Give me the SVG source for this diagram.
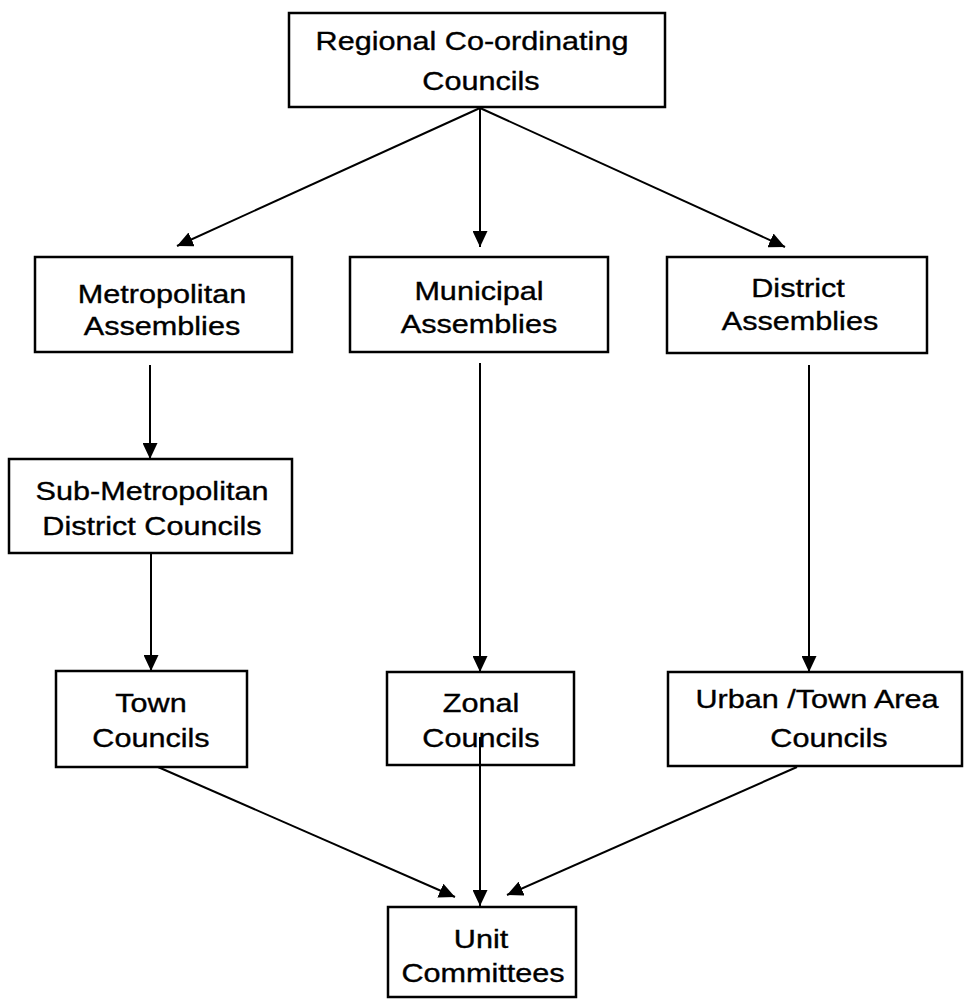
<svg xmlns="http://www.w3.org/2000/svg" width="965" height="999" viewBox="0 0 965 999">
<style>
  .box { fill: #ffffff; stroke: #000000; stroke-width: 2.5; }
  .lbl { font-family: "Liberation Sans", Arial, sans-serif; font-size: 25.5px; fill: #000000; stroke: #000000; stroke-width: 0.35; text-anchor: middle; }
  .conn { stroke: #000000; stroke-width: 2; fill: none; marker-end: url(#arrow); }
</style>
<defs>
  <marker id="arrow" viewBox="0 0 16 15" refX="16" refY="7.5" markerWidth="16" markerHeight="15" markerUnits="userSpaceOnUse" orient="auto">
    <path d="M0,0 L16,7.5 L0,15 Z" fill="#000000"/>
  </marker>
</defs>
<rect width="965" height="999" fill="#ffffff"/>

<g id="connectors">
  <line class="conn" x1="480" y1="108" x2="177" y2="246"/>
  <line class="conn" x1="480" y1="108" x2="480" y2="247"/>
  <line class="conn" x1="480" y1="108" x2="785" y2="247"/>
  <line class="conn" x1="150" y1="365" x2="150" y2="459"/>
  <line class="conn" x1="480" y1="363" x2="480" y2="672"/>
  <line class="conn" x1="809" y1="365" x2="809" y2="672"/>
  <line class="conn" x1="151" y1="553" x2="151" y2="671"/>
  <line class="conn" x1="158" y1="767" x2="455" y2="897"/>
  <line class="conn" x1="797" y1="767" x2="507" y2="895"/>
</g>

<g id="regional">
  <rect class="box" x="289" y="13" width="376" height="94"/>
  <text class="lbl" transform="translate(472,50) scale(1.2,1)">Regional Co-ordinating</text>
  <text class="lbl" transform="translate(481,90) scale(1.2,1)">Councils</text>
</g>

<g id="metropolitan">
  <rect class="box" x="35" y="257" width="257" height="95"/>
  <text class="lbl" transform="translate(162,303) scale(1.2,1)">Metropolitan</text>
  <text class="lbl" transform="translate(162,335) scale(1.2,1)">Assemblies</text>
</g>

<g id="municipal">
  <rect class="box" x="350" y="257" width="258" height="95"/>
  <text class="lbl" transform="translate(479,300) scale(1.2,1)">Municipal</text>
  <text class="lbl" transform="translate(479,333) scale(1.2,1)">Assemblies</text>
</g>

<g id="district">
  <rect class="box" x="667" y="257" width="260" height="96"/>
  <text class="lbl" transform="translate(798,297) scale(1.2,1)">District</text>
  <text class="lbl" transform="translate(800,330) scale(1.2,1)">Assemblies</text>
</g>

<g id="submetro">
  <rect class="box" x="9" y="459" width="283" height="94"/>
  <text class="lbl" transform="translate(152,500) scale(1.2,1)">Sub-Metropolitan</text>
  <text class="lbl" transform="translate(152,535) scale(1.2,1)">District Councils</text>
</g>

<g id="town">
  <rect class="box" x="56" y="671" width="191" height="96"/>
  <text class="lbl" transform="translate(151,712) scale(1.2,1)">Town</text>
  <text class="lbl" transform="translate(151,747) scale(1.2,1)">Councils</text>
</g>

<g id="zonal">
  <rect class="box" x="387" y="672" width="187" height="93"/>
  <text class="lbl" transform="translate(481,712) scale(1.2,1)">Zonal</text>
  <text class="lbl" transform="translate(481,747) scale(1.2,1)">Councils</text>
</g>

<g id="urban">
  <rect class="box" x="668" y="672" width="294" height="94"/>
  <text class="lbl" transform="translate(817,708) scale(1.2,1)">Urban /Town Area</text>
  <text class="lbl" transform="translate(829,747) scale(1.2,1)">Councils</text>
</g>

<g id="zonal-link">
  <line class="conn" x1="480" y1="737" x2="480" y2="906"/>
</g>

<g id="unit">
  <rect class="box" x="388" y="907" width="188" height="90"/>
  <text class="lbl" transform="translate(481,948) scale(1.2,1)">Unit</text>
  <text class="lbl" transform="translate(483,982) scale(1.2,1)">Committees</text>
</g>
</svg>
